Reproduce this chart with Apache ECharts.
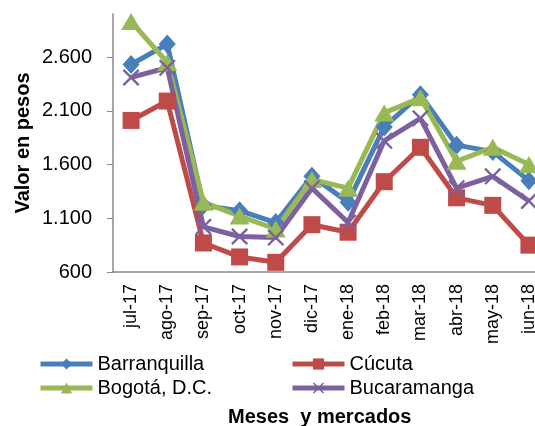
<!DOCTYPE html>
<html>
<head>
<meta charset="utf-8">
<script src="https://cdn.jsdelivr.net/npm/echarts@6/dist/echarts.min.js"></script>
<style>
  html, body { margin: 0; padding: 0; background: #fff; }
  #chart { width: 535px; height: 426px; }
</style>
</head>
<body>
<div id="chart"></div>
<script>
// meses
const months = ['jul-17', 'ago-17', 'sep-17', 'oct-17', 'nov-17', 'dic-17', 'ene-18', 'feb-18', 'mar-18', 'abr-18', 'may-18', 'jun-18']

// valores por mercado (pesos)
const barranquilla = [2530, 2720, 1220, 1170, 1060, 1490, 1250, 1950, 2250, 1780, 1720, 1450]
const cucuta = [2010, 2190, 870, 740, 690, 1040, 970, 1440, 1760, 1290, 1220, 850]
const bogota = [2930, 2550, 1250, 1120, 1000, 1460, 1380, 2080, 2220, 1630, 1760, 1600]
const bucaramanga = [2410, 2500, 1020, 930, 920, 1380, 1060, 1820, 2030, 1380, 1490, 1260]

const FONT = '"Liberation Sans", Arial, sans-serif'
const X_MARK = 'path://M0,1 L1,0 L5,4 L9,0 L10,1 L6,5 L10,9 L9,10 L5,6 L1,10 L0,9 L4,5 Z'

function fmt(v) {
  return String(v).replace(/\B(?=(\d{3})+(?!\d))/g, '.')
}

function line(name, data, color, symbol, size) {
  return {
    name: name,
    type: 'line',
    data: data,
    symbol: symbol,
    symbolSize: size,
    clip: false,
    lineStyle: { color: color, width: 5 },
    itemStyle: { color: color },
  }
}

const legendBase = {
  orient: 'vertical',
  top: 354,
  padding: 0,
  itemGap: 4,
  itemWidth: 52,
  itemHeight: 14,
  lineStyle: { width: 5 },
  textStyle: { fontFamily: FONT, fontSize: 20, color: '#000' },
}

const chart = echarts.init(document.getElementById('chart'))
chart.setOption({
  animation: false,
  textStyle: { fontFamily: FONT },
  grid: { left: 113, top: 14, bottom: 154, right: -12, outerBoundsMode: 'none' },
  title: {
    text: 'Meses  y mercados',
    left: 228,
    top: 407,
    padding: 0,
    textStyle: { fontFamily: FONT, fontSize: 20, fontWeight: 'bold', color: '#000' },
  },
  legend: [
    Object.assign({}, legendBase, { left: 38, data: ['Barranquilla', 'Bogotá, D.C.'] }),
    Object.assign({}, legendBase, { left: 290, data: ['Cúcuta', 'Bucaramanga'] }),
  ],
  xAxis: {
    type: 'category',
    data: months,
    boundaryGap: true,
    axisLine: { lineStyle: { color: '#898989', width: 1.5 } },
    axisTick: { show: false },
    axisLabel: {
      interval: 0,
      rotate: 90,
      margin: 12,
      fontFamily: FONT,
      fontSize: 18,
      color: '#000',
    },
  },
  yAxis: {
    type: 'value',
    min: 600,
    max: 3000,
    interval: 500,
    name: 'Valor en pesos',
    nameLocation: 'middle',
    nameGap: 80,
    nameMoveOverlap: false,
    nameTextStyle: { fontFamily: FONT, fontSize: 20, fontWeight: 'bold', color: '#000' },
    splitLine: { show: false },
    axisLine: { show: true, lineStyle: { color: '#898989', width: 1.5 } },
    axisTick: { show: true, length: 6, lineStyle: { color: '#898989' } },
    axisLabel: {
      showMaxLabel: false,
      margin: 21,
      fontFamily: FONT,
      fontSize: 20,
      color: '#000',
      formatter: fmt,
    },
  },
  series: [
    line('Barranquilla', barranquilla, '#4A7EBB', 'diamond', [17, 19]),
    line('Cúcuta', cucuta, '#BE4B48', 'rect', 17),
    line('Bogotá, D.C.', bogota, '#98B954', 'triangle', [20, 17]),
    line('Bucaramanga', bucaramanga, '#7D60A0', X_MARK, 17),
  ],
})
</script>
</body>
</html>
